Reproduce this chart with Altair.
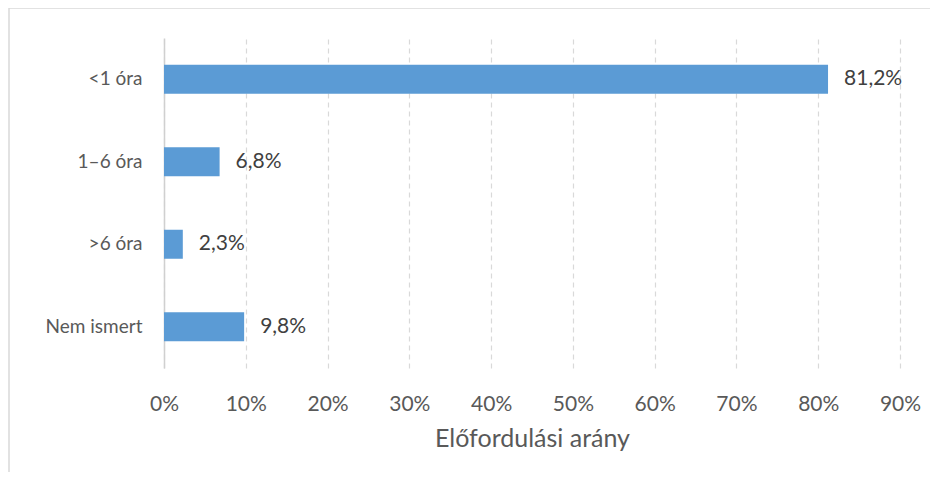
import altair as alt
import pandas as pd

categories = ["<1 óra", "1–6 óra", ">6 óra", "Nem ismert"]
values = [81.2, 6.8, 2.3, 9.8]
x_ticks = [0, 10, 20, 30, 40, 50, 60, 70, 80, 90]

df = pd.DataFrame({"cat": categories, "v": values})

FONT = "Lato"

base = alt.Chart(df).encode(
    y=alt.Y("cat:N", sort=categories, scale=alt.Scale(domain=categories),
            axis=alt.Axis(title=None, ticks=False, labelPadding=22, labelFontSize=19,
                          labelColor="#595959", labelFont=FONT,
                          domainColor="#d0d0d0", domainWidth=1.5, grid=False)),
)

bars = base.mark_bar(size=29, color="#5B9BD5").encode(
    x=alt.X("v:Q", scale=alt.Scale(domain=[0, 90], nice=False),
            axis=alt.Axis(values=x_ticks, labelExpr="datum.value + '%'",
                          title="Előfordulási arány", titleFontSize=25, titleFont=FONT,
                          titleFontWeight="normal", titleColor="#595959", titlePadding=12,
                          labelFontSize=21, labelFont=FONT, labelColor="#595959",
                          labelPadding=25, labelFlush=False, labelBound=False,
                          ticks=False, domain=False,
                          grid=True, gridColor="#d9d9d9", gridDash=[5, 4], gridWidth=1.2)),
)

labels = base.transform_calculate(
    lbl="replace(format(datum.v, '.1f'), '.', ',') + '%'"
).mark_text(align="left", baseline="middle", dx=16, fontSize=21, font=FONT,
            color="#404040").encode(
    x="v:Q", text="lbl:N"
)

frame = alt.Data(values=[{}])
top_line = alt.Chart(frame).mark_rule(color="#d9d9d9", strokeWidth=1.5).encode(
    x=alt.value(-155), x2=alt.value(780), y=alt.value(-30)
)
left_line = alt.Chart(frame).mark_rule(color="#d9d9d9", strokeWidth=1.5).encode(
    x=alt.value(-155), y=alt.value(-30), y2=alt.value(440)
)

chart = alt.layer(bars, labels, top_line, left_line).properties(
    width=736, height=330,
    background="white",
    autosize=alt.AutoSizeParams(type="none"),
    padding={"left": 156, "top": 30, "right": 30, "bottom": 104},
).configure_view(stroke=None)

chart.save("out.html", embed_options={"renderer": "svg", "actions": False})
